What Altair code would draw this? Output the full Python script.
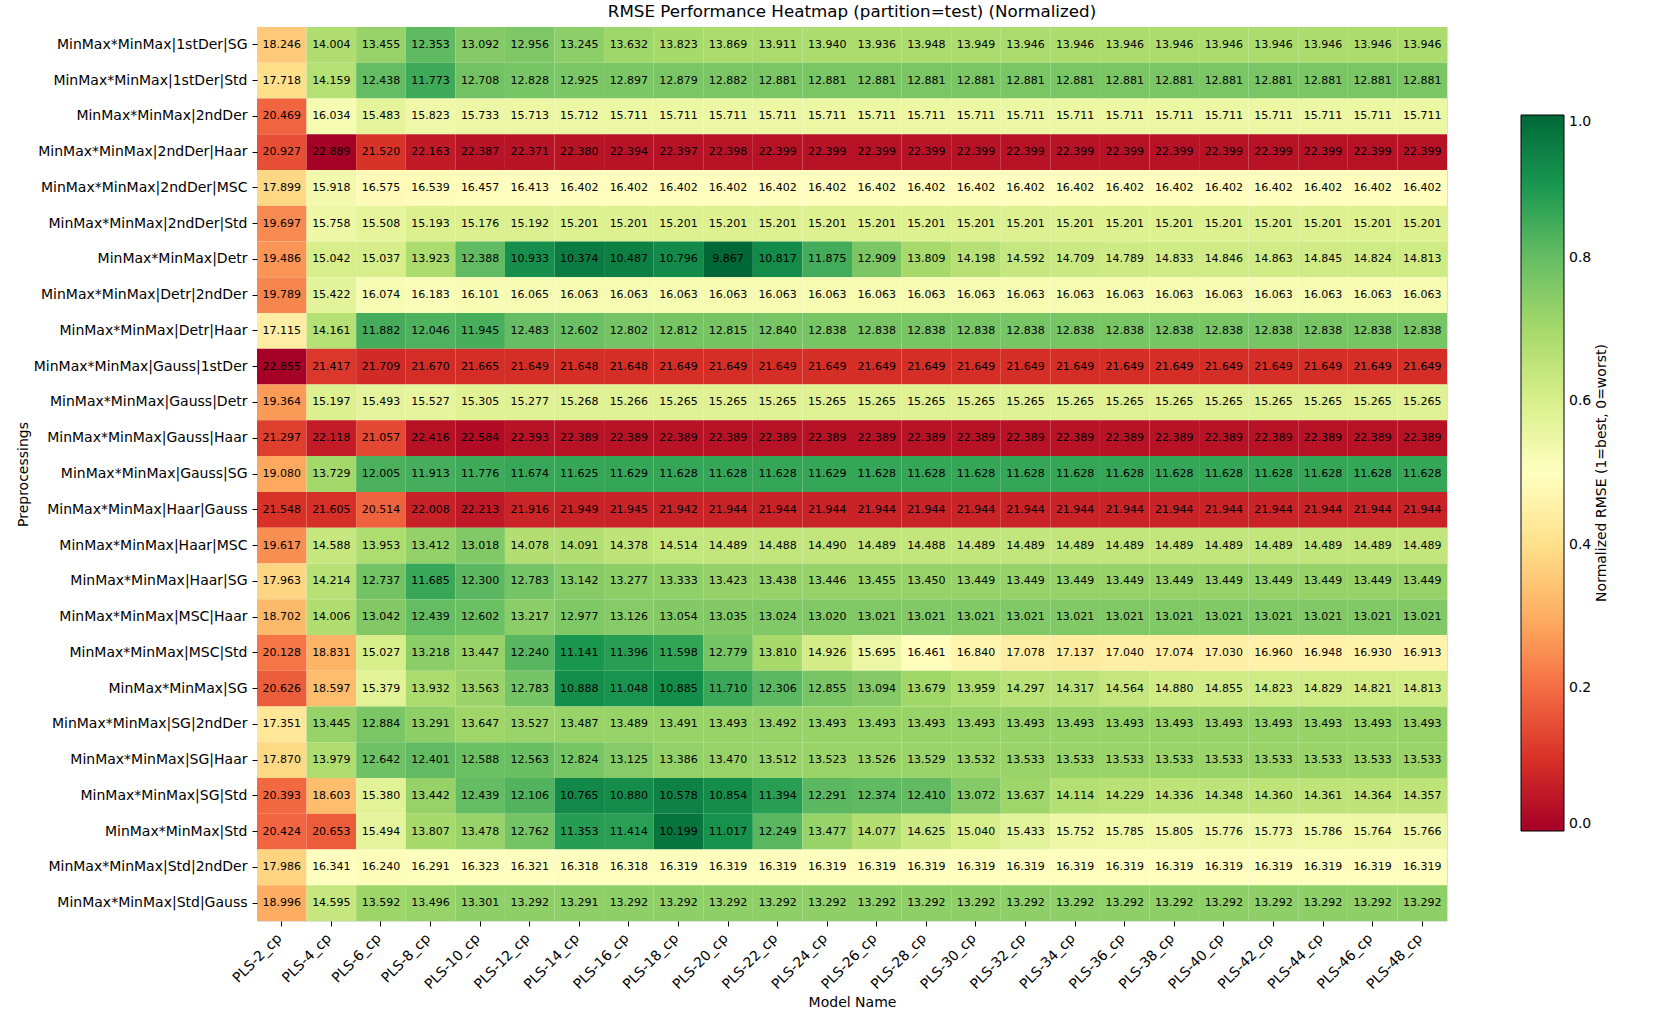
import altair as alt
import pandas as pd

models = ["PLS-2_cp", "PLS-4_cp", "PLS-6_cp", "PLS-8_cp", "PLS-10_cp", "PLS-12_cp",
          "PLS-14_cp", "PLS-16_cp", "PLS-18_cp", "PLS-20_cp", "PLS-22_cp", "PLS-24_cp",
          "PLS-26_cp", "PLS-28_cp", "PLS-30_cp", "PLS-32_cp", "PLS-34_cp", "PLS-36_cp",
          "PLS-38_cp", "PLS-40_cp", "PLS-42_cp", "PLS-44_cp", "PLS-46_cp", "PLS-48_cp"]

preprocessings = [
    "MinMax*MinMax|1stDer|SG", "MinMax*MinMax|1stDer|Std", "MinMax*MinMax|2ndDer",
    "MinMax*MinMax|2ndDer|Haar", "MinMax*MinMax|2ndDer|MSC", "MinMax*MinMax|2ndDer|Std",
    "MinMax*MinMax|Detr", "MinMax*MinMax|Detr|2ndDer", "MinMax*MinMax|Detr|Haar",
    "MinMax*MinMax|Gauss|1stDer", "MinMax*MinMax|Gauss|Detr", "MinMax*MinMax|Gauss|Haar",
    "MinMax*MinMax|Gauss|SG", "MinMax*MinMax|Haar|Gauss", "MinMax*MinMax|Haar|MSC",
    "MinMax*MinMax|Haar|SG", "MinMax*MinMax|MSC|Haar", "MinMax*MinMax|MSC|Std",
    "MinMax*MinMax|SG", "MinMax*MinMax|SG|2ndDer", "MinMax*MinMax|SG|Haar",
    "MinMax*MinMax|SG|Std", "MinMax*MinMax|Std", "MinMax*MinMax|Std|2ndDer",
    "MinMax*MinMax|Std|Gauss"]

rmse = [
    [18.246, 14.004, 13.455, 12.353, 13.092, 12.956, 13.245, 13.632, 13.823, 13.869, 13.911, 13.940,
     13.936, 13.948, 13.949, 13.946, 13.946, 13.946, 13.946, 13.946, 13.946, 13.946, 13.946, 13.946],
    [17.718, 14.159, 12.438, 11.773, 12.708, 12.828, 12.925, 12.897, 12.879, 12.882, 12.881, 12.881,
     12.881, 12.881, 12.881, 12.881, 12.881, 12.881, 12.881, 12.881, 12.881, 12.881, 12.881, 12.881],
    [20.469, 16.034, 15.483, 15.823, 15.733, 15.713, 15.712, 15.711, 15.711, 15.711, 15.711, 15.711,
     15.711, 15.711, 15.711, 15.711, 15.711, 15.711, 15.711, 15.711, 15.711, 15.711, 15.711, 15.711],
    [20.927, 22.889, 21.520, 22.163, 22.387, 22.371, 22.380, 22.394, 22.397, 22.398, 22.399, 22.399,
     22.399, 22.399, 22.399, 22.399, 22.399, 22.399, 22.399, 22.399, 22.399, 22.399, 22.399, 22.399],
    [17.899, 15.918, 16.575, 16.539, 16.457, 16.413, 16.402, 16.402, 16.402, 16.402, 16.402, 16.402,
     16.402, 16.402, 16.402, 16.402, 16.402, 16.402, 16.402, 16.402, 16.402, 16.402, 16.402, 16.402],
    [19.697, 15.758, 15.508, 15.193, 15.176, 15.192, 15.201, 15.201, 15.201, 15.201, 15.201, 15.201,
     15.201, 15.201, 15.201, 15.201, 15.201, 15.201, 15.201, 15.201, 15.201, 15.201, 15.201, 15.201],
    [19.486, 15.042, 15.037, 13.923, 12.388, 10.933, 10.374, 10.487, 10.796, 9.867, 10.817, 11.875,
     12.909, 13.809, 14.198, 14.592, 14.709, 14.789, 14.833, 14.846, 14.863, 14.845, 14.824, 14.813],
    [19.789, 15.422, 16.074, 16.183, 16.101, 16.065, 16.063, 16.063, 16.063, 16.063, 16.063, 16.063,
     16.063, 16.063, 16.063, 16.063, 16.063, 16.063, 16.063, 16.063, 16.063, 16.063, 16.063, 16.063],
    [17.115, 14.161, 11.882, 12.046, 11.945, 12.483, 12.602, 12.802, 12.812, 12.815, 12.840, 12.838,
     12.838, 12.838, 12.838, 12.838, 12.838, 12.838, 12.838, 12.838, 12.838, 12.838, 12.838, 12.838],
    [22.855, 21.417, 21.709, 21.670, 21.665, 21.649, 21.648, 21.648, 21.649, 21.649, 21.649, 21.649,
     21.649, 21.649, 21.649, 21.649, 21.649, 21.649, 21.649, 21.649, 21.649, 21.649, 21.649, 21.649],
    [19.364, 15.197, 15.493, 15.527, 15.305, 15.277, 15.268, 15.266, 15.265, 15.265, 15.265, 15.265,
     15.265, 15.265, 15.265, 15.265, 15.265, 15.265, 15.265, 15.265, 15.265, 15.265, 15.265, 15.265],
    [21.297, 22.118, 21.057, 22.416, 22.584, 22.393, 22.389, 22.389, 22.389, 22.389, 22.389, 22.389,
     22.389, 22.389, 22.389, 22.389, 22.389, 22.389, 22.389, 22.389, 22.389, 22.389, 22.389, 22.389],
    [19.080, 13.729, 12.005, 11.913, 11.776, 11.674, 11.625, 11.629, 11.628, 11.628, 11.628, 11.629,
     11.628, 11.628, 11.628, 11.628, 11.628, 11.628, 11.628, 11.628, 11.628, 11.628, 11.628, 11.628],
    [21.548, 21.605, 20.514, 22.008, 22.213, 21.916, 21.949, 21.945, 21.942, 21.944, 21.944, 21.944,
     21.944, 21.944, 21.944, 21.944, 21.944, 21.944, 21.944, 21.944, 21.944, 21.944, 21.944, 21.944],
    [19.617, 14.588, 13.953, 13.412, 13.018, 14.078, 14.091, 14.378, 14.514, 14.489, 14.488, 14.490,
     14.489, 14.488, 14.489, 14.489, 14.489, 14.489, 14.489, 14.489, 14.489, 14.489, 14.489, 14.489],
    [17.963, 14.214, 12.737, 11.685, 12.300, 12.783, 13.142, 13.277, 13.333, 13.423, 13.438, 13.446,
     13.455, 13.450, 13.449, 13.449, 13.449, 13.449, 13.449, 13.449, 13.449, 13.449, 13.449, 13.449],
    [18.702, 14.006, 13.042, 12.439, 12.602, 13.217, 12.977, 13.126, 13.054, 13.035, 13.024, 13.020,
     13.021, 13.021, 13.021, 13.021, 13.021, 13.021, 13.021, 13.021, 13.021, 13.021, 13.021, 13.021],
    [20.128, 18.831, 15.027, 13.218, 13.447, 12.240, 11.141, 11.396, 11.598, 12.779, 13.810, 14.926,
     15.695, 16.461, 16.840, 17.078, 17.137, 17.040, 17.074, 17.030, 16.960, 16.948, 16.930, 16.913],
    [20.626, 18.597, 15.379, 13.932, 13.563, 12.783, 10.888, 11.048, 10.885, 11.710, 12.306, 12.855,
     13.094, 13.679, 13.959, 14.297, 14.317, 14.564, 14.880, 14.855, 14.823, 14.829, 14.821, 14.813],
    [17.351, 13.445, 12.884, 13.291, 13.647, 13.527, 13.487, 13.489, 13.491, 13.493, 13.492, 13.493,
     13.493, 13.493, 13.493, 13.493, 13.493, 13.493, 13.493, 13.493, 13.493, 13.493, 13.493, 13.493],
    [17.870, 13.979, 12.642, 12.401, 12.588, 12.563, 12.824, 13.125, 13.386, 13.470, 13.512, 13.523,
     13.526, 13.529, 13.532, 13.533, 13.533, 13.533, 13.533, 13.533, 13.533, 13.533, 13.533, 13.533],
    [20.393, 18.603, 15.380, 13.442, 12.439, 12.106, 10.765, 10.880, 10.578, 10.854, 11.394, 12.291,
     12.374, 12.410, 13.072, 13.637, 14.114, 14.229, 14.336, 14.348, 14.360, 14.361, 14.364, 14.357],
    [20.424, 20.653, 15.494, 13.807, 13.478, 12.762, 11.353, 11.414, 10.199, 11.017, 12.249, 13.477,
     14.077, 14.625, 15.040, 15.433, 15.752, 15.785, 15.805, 15.776, 15.773, 15.786, 15.764, 15.766],
    [17.986, 16.341, 16.240, 16.291, 16.323, 16.321, 16.318, 16.318, 16.319, 16.319, 16.319, 16.319,
     16.319, 16.319, 16.319, 16.319, 16.319, 16.319, 16.319, 16.319, 16.319, 16.319, 16.319, 16.319],
    [18.996, 14.595, 13.592, 13.496, 13.301, 13.292, 13.291, 13.292, 13.292, 13.292, 13.292, 13.292,
     13.292, 13.292, 13.292, 13.292, 13.292, 13.292, 13.292, 13.292, 13.292, 13.292, 13.292, 13.292],
]

legend_ticks = [0.0, 0.2, 0.4, 0.6, 0.8, 1.0]
legend_title = "Normalized RMSE (1=best, 0=worst)"
rdylgn = ['#a50026', '#d73027', '#f46d43', '#fdae61', '#fee08b', '#ffffbf',
          '#d9ef8b', '#a6d96a', '#66bd63', '#1a9850', '#006837']

records = []
for p, row in zip(preprocessings, rmse):
    for m, v in zip(models, row):
        records.append({"Preprocessing": p, "Model": m, "RMSE": v})
df = pd.DataFrame(records)
vmin, vmax = df["RMSE"].min(), df["RMSE"].max()
df["Norm"] = (vmax - df["RMSE"]) / (vmax - vmin)

FONT = "DejaVu Sans"
W, H = 1190, 894

x_enc = alt.X("Model:N", sort=models, title="Model Name",
              scale=alt.Scale(paddingInner=0, paddingOuter=0),
              axis=alt.Axis(labelAngle=315, labelAlign="right", labelBaseline="top",
                            labelFontSize=14, labelFont=FONT, labelColor="black",
                            tickSize=5, tickColor="black", labelPadding=5, labelOffset=-7,
                            domain=False, grid=False, labelOverlap=False,
                            titleFontSize=14, titleFont=FONT, titleFontWeight="normal",
                            titleColor="black", titleY=81, titleBaseline="middle"))
y_enc = alt.Y("Preprocessing:N", sort=preprocessings, title="Preprocessings",
              scale=alt.Scale(paddingInner=0, paddingOuter=0),
              axis=alt.Axis(labelFontSize=14, labelFont=FONT, labelColor="black",
                            tickSize=5, tickColor="black", labelPadding=5,
                            domain=False, grid=False, labelLimit=400, labelOverlap=False,
                            titleFontSize=14, titleFont=FONT, titleFontWeight="normal",
                            titleColor="black", titleX=-234, titleY=H / 2,
                            titleAngle=270, titleAlign="center", titleBaseline="middle"))

base = alt.Chart(df)

rects = base.mark_rect(strokeWidth=0).encode(
    x=x_enc, y=y_enc,
    color=alt.Color("Norm:Q",
                    scale=alt.Scale(domain=[i / 10 for i in range(11)], range=rdylgn,
                                    interpolate="rgb"),
                    legend=alt.Legend(title=None,
                                      orient="none", legendX=1264, legendY=88,
                                      direction="vertical", gradientLength=716,
                                      gradientThickness=43, gradientStrokeColor="black",
                                      gradientStrokeWidth=1, values=legend_ticks,
                                      format=".1f", labelFontSize=14, labelFont=FONT,
                                      labelColor="black", labelOffset=5, padding=0,
                                      labelBaseline="middle", labelOverlap=False)),
)

texts = base.mark_text(fontSize=11, font=FONT, color="black").encode(
    x=alt.X("Model:N", sort=models),
    y=alt.Y("Preprocessing:N", sort=preprocessings),
    text=alt.Text("RMSE:Q", format=".3f"),
)

ltitle = alt.Chart(pd.DataFrame({"t": [legend_title]})).mark_text(
    angle=270, fontSize=14, font=FONT, color="black", align="center", baseline="middle"
).encode(text="t:N", x=alt.value(1345), y=alt.value(446))

chart = alt.layer(rects, texts, ltitle).properties(
    width=W, height=H,
    title=alt.TitleParams("RMSE Performance Heatmap (partition=test) (Normalized)",
                          fontSize=16.7, font=FONT, fontWeight="normal", color="black",
                          anchor="middle", offset=6),
    autosize=alt.AutoSizeParams(type="none"),
    padding={"left": 257, "top": 27, "right": 213, "bottom": 115},
).configure_view(stroke="black", strokeWidth=1).configure(background="white")

chart.save("out.html", embed_options={"renderer": "svg", "actions": False})
